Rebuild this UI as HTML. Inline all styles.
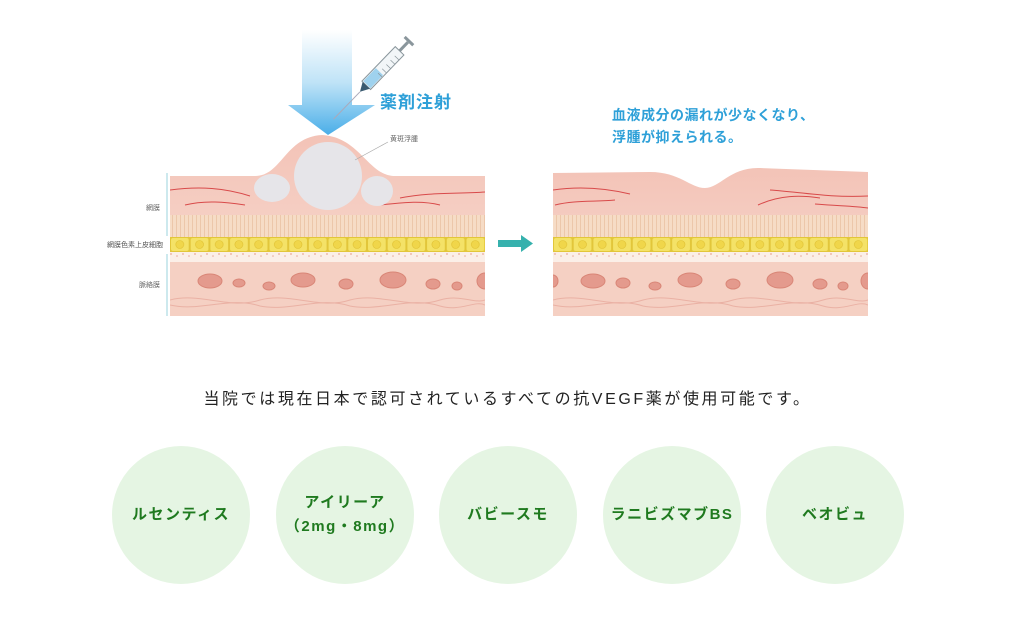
<!DOCTYPE html>
<html><head><meta charset="utf-8"><style>
body{margin:0;background:#fff;width:1015px;height:626px;overflow:hidden;font-family:"Liberation Sans","Noto Sans CJK JP",sans-serif;position:relative}
.t{position:absolute;white-space:nowrap}
.c{position:absolute;width:138px;height:138px;border-radius:50%;background:#e5f5e3;top:446px;display:flex;align-items:center;justify-content:center;text-align:center;color:#1f7a1f;font-weight:bold;font-size:15px;letter-spacing:1.5px;line-height:24px}
</style></head><body>
<svg width="1015" height="626" style="position:absolute;left:0;top:0">
<defs>
<linearGradient id="ar" x1="0" y1="0" x2="0" y2="1"><stop offset="0" stop-color="#ffffff"/><stop offset="0.5" stop-color="#bfe3f7"/><stop offset="1" stop-color="#4aaee8"/></linearGradient>
<linearGradient id="sk" x1="0" y1="0" x2="0" y2="1"><stop offset="0" stop-color="#f3c3b7"/><stop offset="1" stop-color="#f8dcd2"/></linearGradient>
<pattern id="st" width="4" height="22" patternUnits="userSpaceOnUse"><rect width="4" height="22" fill="#f6dcc6"/><rect x="0" width="1" height="22" fill="#ecc7aa"/></pattern>
<pattern id="cl" width="19.7" height="15" patternUnits="userSpaceOnUse" x="170" y="237"><rect width="19.7" height="15" fill="#e2c63a"/><rect x="1" y="1" width="17.7" height="13" rx="2" fill="#f4e267"/><circle cx="9.8" cy="7.5" r="4" fill="#f0d64a" stroke="#e0c030" stroke-width="0.6"/></pattern>
<pattern id="cl2" width="19.7" height="15" patternUnits="userSpaceOnUse" x="553" y="237"><rect width="19.7" height="15" fill="#e2c63a"/><rect x="1" y="1" width="17.7" height="13" rx="2" fill="#f4e267"/><circle cx="9.8" cy="7.5" r="4" fill="#f0d64a" stroke="#e0c030" stroke-width="0.6"/></pattern>
<pattern id="dt" width="12" height="10" patternUnits="userSpaceOnUse"><rect width="12" height="10" fill="#fbefe8"/><circle cx="3" cy="4" r="0.9" fill="#e8a99a"/><circle cx="9" cy="6" r="0.8" fill="#e8a99a"/></pattern>
<clipPath id="lp"><rect x="170" y="100" width="315" height="216"/></clipPath>
<clipPath id="rp"><rect x="553" y="100" width="315" height="216"/></clipPath>
</defs>
<!-- LEFT PANEL -->
<g clip-path="url(#lp)">
<path d="M170,176 L255,176 C282,176 285,137 322,135 C360,137 368,176 395,176 L485,176 L485,316 L170,316 Z" fill="url(#sk)"/>
<g stroke="#d84a4a" stroke-width="1" fill="none">
<path d="M170,190 C200,186 225,188 250,196"/><path d="M185,205 C205,200 225,202 245,205"/>
<path d="M400,198 C430,192 455,194 485,192"/><path d="M380,205 C400,203 420,200 440,205"/>
</g>
<circle cx="328" cy="176" r="34" fill="#e6e5e9"/>
<ellipse cx="272" cy="188" rx="18" ry="14" fill="#e6e5e9"/>
<ellipse cx="377" cy="191" rx="16" ry="15" fill="#e6e5e9"/>
<rect x="170" y="215" width="315" height="22" fill="url(#st)"/>
<rect x="170" y="237" width="315" height="15" fill="url(#cl)"/>
<rect x="170" y="252" width="315" height="10" fill="url(#dt)"/>
<rect x="170" y="262" width="315" height="54" fill="#f5d0c3"/>
<g fill="#e49a8d" stroke="#d98677" stroke-width="1">
<ellipse cx="210" cy="281" rx="12" ry="7"/><ellipse cx="239" cy="283" rx="6" ry="4"/><ellipse cx="269" cy="286" rx="6" ry="4"/><ellipse cx="303" cy="280" rx="12" ry="7"/><ellipse cx="346" cy="284" rx="7" ry="5"/><ellipse cx="393" cy="280" rx="13" ry="8"/><ellipse cx="433" cy="284" rx="7" ry="5"/><ellipse cx="457" cy="286" rx="5" ry="4"/><ellipse cx="485" cy="281" rx="8" ry="8"/>
</g>
<path d="M170,300 C200,292 230,310 260,300 C290,292 320,310 350,300 C380,292 410,310 440,300 C460,294 475,304 485,300" stroke="#eab1a4" fill="none"/>
<path d="M170,305 C200,312 230,296 260,306 C290,312 320,296 350,306 C380,312 410,296 440,306 C460,312 475,300 485,305" stroke="#eab1a4" fill="none"/>
</g>
<line x1="167" y1="173" x2="167" y2="236" stroke="#9bd3dd"/>
<line x1="167" y1="254" x2="167" y2="316" stroke="#9bd3dd"/>
<!-- arrow -->
<path d="M302,30 L352,30 L352,105 L375,105 L328,135 L288,105 L302,105 Z" fill="url(#ar)"/>
<!-- syringe -->
<g transform="translate(410,40) rotate(134)">
<rect x="0" y="-6" width="3" height="12" fill="#8a969c"/>
<rect x="3" y="-1.5" width="12" height="3" fill="#8a969c"/>
<rect x="15" y="-6" width="48" height="12" fill="#f2f6f8" stroke="#8a969c" stroke-width="1"/>
<rect x="44" y="-5" width="18" height="10" fill="#9fd2ee"/>
<g stroke="#8a969c" stroke-width="0.7"><line x1="22" y1="-6" x2="22" y2="0"/><line x1="28" y1="-6" x2="28" y2="0"/><line x1="34" y1="-6" x2="34" y2="0"/><line x1="40" y1="-6" x2="40" y2="0"/><line x1="46" y1="-6" x2="46" y2="0"/></g>
<path d="M63,-5 L72,0 L63,5 Z" fill="#3a5a70"/>
<line x1="72" y1="0" x2="110" y2="0" stroke="#aab" stroke-width="1"/>
</g>
<line x1="355" y1="160" x2="388" y2="142" stroke="#aaa" stroke-width="0.7"/>
<!-- teal arrow -->
<path d="M498,240 L521,240 L521,235 L533,243.5 L521,252 L521,247 L498,247 Z" fill="#36b1ad"/>
<!-- RIGHT PANEL -->
<g clip-path="url(#rp)">
<path d="M553,173 L650,172 C680,172 690,188 705,188 C720,188 730,167 760,168 L868,172 L868,316 L553,316 Z" fill="url(#sk)"/>
<g stroke="#d84a4a" stroke-width="1" fill="none">
<path d="M553,190 C580,186 605,188 630,194"/><path d="M555,205 C575,200 595,202 615,200"/>
<path d="M770,190 C800,192 830,198 868,196"/><path d="M758,205 C780,195 800,195 820,198"/><path d="M815,204 C840,206 855,206 868,208"/>
</g>
<rect x="553" y="215" width="315" height="22" fill="url(#st)"/>
<rect x="553" y="237" width="315" height="15" fill="url(#cl2)"/>
<rect x="553" y="252" width="315" height="10" fill="url(#dt)"/>
<rect x="553" y="262" width="315" height="54" fill="#f5d0c3"/>
<g fill="#e49a8d" stroke="#d98677" stroke-width="1">
<ellipse cx="553" cy="281" rx="5" ry="6"/><ellipse cx="593" cy="281" rx="12" ry="7"/><ellipse cx="623" cy="283" rx="7" ry="5"/><ellipse cx="655" cy="286" rx="6" ry="4"/><ellipse cx="690" cy="280" rx="12" ry="7"/><ellipse cx="733" cy="284" rx="7" ry="5"/><ellipse cx="780" cy="280" rx="13" ry="8"/><ellipse cx="820" cy="284" rx="7" ry="5"/><ellipse cx="843" cy="286" rx="5" ry="4"/><ellipse cx="868" cy="281" rx="7" ry="8"/>
</g>
<path d="M553,300 C583,292 613,310 643,300 C673,292 703,310 733,300 C763,292 793,310 823,300 C843,294 858,304 868,300" stroke="#eab1a4" fill="none"/>
<path d="M553,305 C583,312 613,296 643,306 C673,312 703,296 733,306 C763,312 793,296 823,306 C843,312 858,300 868,305" stroke="#eab1a4" fill="none"/>
</g>
</svg>
<div class="t" style="left:380px;top:88px;font-size:17px;font-weight:bold;color:#2ea0d8;letter-spacing:1px">薬剤注射</div>
<div class="t" style="left:612px;top:104px;font-size:14px;font-weight:bold;color:#2ea0d8;line-height:22px;letter-spacing:0.5px">血液成分の漏れが少なくなり、<br>浮腫が抑えられる。</div>
<div class="t" style="left:390px;top:134px;font-size:7px;color:#666">黄斑浮腫</div>
<div class="t" style="left:140px;top:203px;font-size:7px;color:#666;width:20px;text-align:right">網膜</div>
<div class="t" style="left:100px;top:240px;font-size:7px;color:#555;width:63px;text-align:right">網膜色素上皮細胞</div>
<div class="t" style="left:130px;top:280px;font-size:7px;color:#666;width:30px;text-align:right">脈絡膜</div>
<div class="t" style="left:0;width:1015px;top:385px;text-align:center;font-size:16px;color:#222;letter-spacing:2.6px">当院では現在日本で認可されているすべての抗VEGF薬が使用可能です。</div>
<div class="c" style="left:112px">ルセンティス</div>
<div class="c" style="left:276px">アイリーア<br>（2mg・8mg）</div>
<div class="c" style="left:439px">バビースモ</div>
<div class="c" style="left:603px">ラニビズマブBS</div>
<div class="c" style="left:766px">ベオビュ</div>
</body></html>
